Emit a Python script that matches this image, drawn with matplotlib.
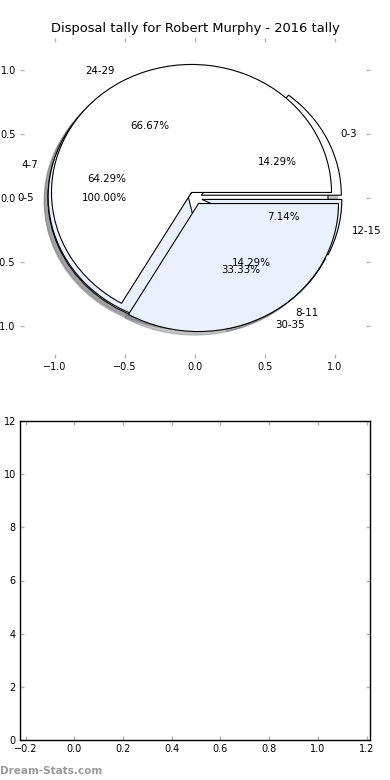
import matplotlib

matplotlib.use("Agg")
import matplotlib.pyplot as plt

# tallies per age bracket, one pie per group (drawn on top of each other)
labels_a = ["0-5"]
counts_a = [1]

labels_b = ["0-3", "4-7", "8-11", "12-15"]
counts_b = [2, 9, 2, 1]

labels_c = ["24-29", "30-35"]
counts_c = [2, 1]

pie_ticks = [-1.0, -0.5, 0.0, 0.5, 1.0]
bar_xticks = [-0.2, 0.0, 0.2, 0.4, 0.6, 0.8, 1.0, 1.2]
bar_yticks = [0, 2, 4, 6, 8, 10, 12]

WEDGE_COLORS = ["white", "#eaf1fd"]
TICK_GREY = "#b4b4b4"

plt.rcParams["font.family"] = "DejaVu Sans"

fig = plt.figure(figsize=(3.9, 7.8), dpi=100)
fig.patch.set_facecolor("white")

ax1 = fig.add_axes([20 / 390, 1 - 358 / 780, 350 / 390, 320 / 780])
ax2 = fig.add_axes([20 / 390, 40 / 780, 350 / 390, 319 / 780])

for labels, counts in [(labels_a, counts_a), (labels_b, counts_b), (labels_c, counts_c)]:
    ax1.pie(
        counts,
        labels=labels,
        explode=[0.05] * len(counts),
        colors=WEDGE_COLORS,
        autopct="%1.2f%%",
        shadow={"ox": -0.02, "oy": -0.02, "shade": 0.55, "alpha": 0.4},
        wedgeprops={"edgecolor": "black", "linewidth": 0.8},
        textprops={"fontsize": 7.4},
    )

ax1.set_aspect("auto")
ax1.set_xlim(-1.25, 1.25)
ax1.set_ylim(-1.25, 1.25)
ax1.set_xticks(pie_ticks)
ax1.set_yticks(pie_ticks)
ax1.set_frame_on(False)
ax1.set_title("Disposal tally for Robert Murphy - 2016 tally", fontsize=9.4, pad=4)

ax2.set_xlim(-0.223, 1.214)
ax2.set_ylim(0, 12)
ax2.set_xticks(bar_xticks)
ax2.set_yticks(bar_yticks)
for sp in ax2.spines.values():
    sp.set_color("black")
    sp.set_linewidth(1.0)

for ax in (ax1, ax2):
    ax.tick_params(
        direction="in", length=3, width=1, color=TICK_GREY, labelsize=7,
        pad=3, top=True, right=True,
    )

fig.text(0.0, 0.012, "Dream-Stats.com", color="#9a9a9a", fontsize=7.5,
         fontweight="bold", ha="left", va="center")

fig.savefig("out.png", dpi=100, facecolor="white")
